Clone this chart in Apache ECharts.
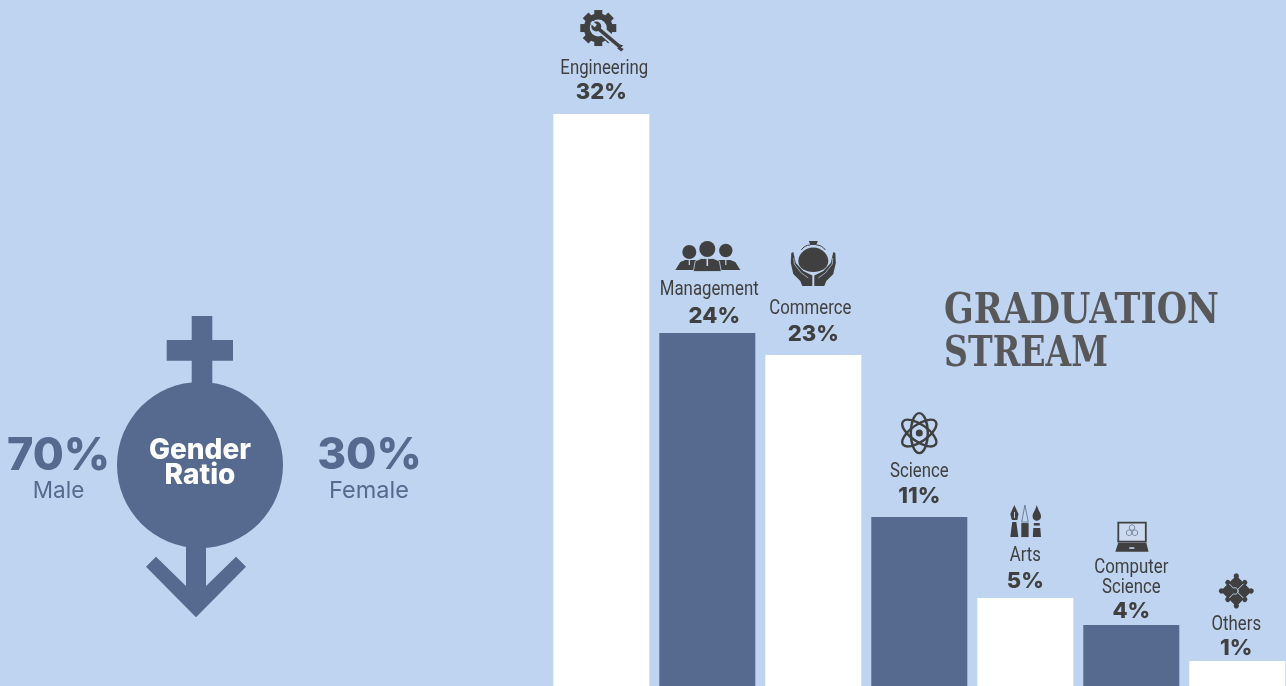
<!DOCTYPE html>
<html>
<head>
<meta charset="utf-8">
<title>Graduation Stream</title>
<script src="https://cdn.jsdelivr.net/npm/echarts@6/dist/echarts.min.js"></script>
<style>
  html, body { margin: 0; padding: 0; background: #bfd4f0; }
  #chart { width: 1286px; height: 686px; }
</style>
</head>
<body>
<div id="chart"></div>
<script>
const categories = ['Engineering', 'Management', 'Commerce', 'Science', 'Arts', 'Computer Science', 'Others']
// percentages as printed above the bars
const streamPercents = [32, 24, 23, 11, 5, 4, 1]
// bar heights as drawn in the picture, the artwork does not follow the printed percentages exactly
const barHeights = [32, 19.75, 18.52, 9.45, 4.92, 3.41, 1.4]
const genderNames = ['Male', 'Female']
const genderPercents = [70, 30]
const titleLines = ['GRADUATION', 'STREAM']

const BG = '#bfd4f0'
const DARK = '#56698f'
const INK = '#404040'
const barColors = ['#ffffff', DARK]

// label and icon places, relative to the top centre of each bar
const nameOffsets = [[3, -45], [2, -43], [-3, -46], [0, -45], [0, -42], [0, -37], [-1, -36]]
const percentOffsets = [[0, -22], [7, -17], [0, -21], [0, -21], [0, -17], [0, -14], [-1, -13]]
const iconOffsets = [[-1, -84], [0, -78], [0, -91], [0, -84], [0, -77], [0, -88], [-1, -70]]

function fill (d, color) {
  return { type: 'path', shape: { pathData: d }, style: { fill: color || INK } }
}
function circle (cx, cy, r, color) {
  return { type: 'circle', shape: { cx, cy, r }, style: { fill: color || INK } }
}
function line (x1, y1, x2, y2, w, color) {
  return { type: 'line', shape: { x1, y1, x2, y2 }, style: { stroke: color || INK, lineWidth: w } }
}

function gearIcon () {
  const teeth = [0, 45, 90, 135, 180, 225, 270, 315].map((deg) => ({
    type: 'rect',
    x: -2,
    y: -2,
    rotation: deg * Math.PI / 180,
    shape: { x: -4, y: -18, width: 8, height: 6 },
    style: { fill: INK }
  }))
  return teeth.concat([
    { type: 'circle', shape: { cx: -2, cy: -2, r: 11.5 }, style: { fill: 'none', stroke: INK, lineWidth: 6 } },
    line(3, 2, 21, 18, 8, BG),
    line(-2, -1.5, 20, 17, 3.6),
    circle(-4, -3.5, 5),
    line(-9, -8, -4.5, -4, 3.4, BG),
    fill('M17 18.5L20 14.5L23 15.5L20.5 17.5L23.5 19L21 21.5Z')
  ])
}

function peopleIcon () {
  return [
    circle(-18, -3, 7),
    circle(0, -6, 8),
    circle(18.5, -4.5, 6.7),
    fill('M-32 15L-27 7L-22 5L-10 5L-10 15Z'),
    fill('M33 15L28 7L23 5L10 5L10 15Z'),
    { type: 'path', shape: { pathData: 'M-14 16.5L-12 6L-6 3.5L6 3.5L12 6L14 16.5Z' }, style: { fill: INK, stroke: BG, lineWidth: 0.8 } },
    line(0, 4, 0, 11, 1.6, BG),
    line(-18, 5, -18, 10, 1.2, BG),
    line(18.5, 5, 18.5, 10, 1.2, BG)
  ]
}

function handsIcon () {
  return [
    fill('M0 -16.5C9 -16.5 15 -9 15 -3C15 4 8 8 0 8C-8 8 -15 4 -15 -3C-15 -9 -9 -16.5 0 -16.5Z'),
    fill('M-4.5 -23L4.5 -23L3 -19L-3 -19Z'),
    { type: 'path', shape: { pathData: 'M-3 -19C-7 -19 -10 -17 -12 -14M3 -19C7 -19 10 -17 12 -14' }, style: { fill: 'none', stroke: INK, lineWidth: 1 } },
    fill('M-22 -11L-20 -12L-17.5 -1L-10 7L-1 11.5L-1 22L-11 22L-13 17L-20 10L-22.5 -1Z'),
    fill('M22 -11L20 -12L17.5 -1L10 7L1 11.5L1 22L11 22L13 17L20 10L22.5 -1Z'),
    { type: 'path', shape: { pathData: 'M-19.5 -6L-19 0L-12 9L-5 14M19.5 -6L19 0L12 9L5 14' }, style: { fill: 'none', stroke: BG, lineWidth: 0.7 } }
  ]
}

function atomIcon () {
  const orbit = (deg) => ({
    type: 'ellipse',
    rotation: deg * Math.PI / 180,
    shape: { cx: 0, cy: 0, rx: 20, ry: 8.5 },
    style: { fill: 'none', stroke: INK, lineWidth: 2.4 }
  })
  return [orbit(35), orbit(-35), orbit(90), circle(0, 0, 3.5)]
}

function toolsIcon () {
  return [
    fill('M-11 -16L-6.8 -7L-8 -1L-13.5 -1L-15 -7Z'),
    line(-10.8, -9, -10.8, -3, 0.9, BG),
    fill('M-13 1L-9 1L-8 8L-7 16L-15 16L-14 8Z'),
    { type: 'path', shape: { pathData: 'M-0.4 -16L3 1L-3.6 1Z' }, style: { fill: 'none', stroke: '#5b6a85', lineWidth: 0.8 } },
    fill('M-4 2L3.3 2L3.3 16L-4 16Z'),
    fill('M11.5 -16C13 -10 16 -8 15.7 -4C15 1 8 1 7.3 -4C7 -8 10 -10 11.5 -16Z'),
    fill('M8.5 2L14.5 2L14.5 4.5L8.5 4.5Z'),
    fill('M8 7L15 7L15.7 16L7.5 16Z')
  ]
}

function laptopIcon () {
  const hex = 'M0 -3L2.6 -1.5L2.6 1.5L0 3L-2.6 1.5L-2.6 -1.5Z'
  const cell = (x, y) => ({ type: 'path', x, y, shape: { pathData: hex }, style: { fill: 'none', stroke: '#6b7a94', lineWidth: 0.8 } })
  return [
    { type: 'rect', shape: { x: -13, y: -14.5, width: 27.5, height: 19 }, style: { fill: '#ccd9ee', stroke: INK, lineWidth: 1.8 } },
    cell(0.7, -9.5), cell(-2.2, -4.3), cell(3.6, -4.3),
    fill('M-13 5.7L15 5.7L17.3 14.7L-16 14.7Z'),
    fill('M-2 10.2L3 10.2L3 11.8L-2 11.8Z', BG)
  ]
}

function puzzleIcon () {
  const cornerKnobs = [[-10.5, -10.5], [10.5, -10.5], [-10.5, 10.5], [10.5, 10.5]]
  const sideKnobs = [[0, -12], [0, 12], [-12, 0], [12, 0]]
  return [{
    type: 'group',
    rotation: Math.PI / 4,
    children: [{ type: 'rect', shape: { x: -11, y: -11, width: 22, height: 22 }, style: { fill: INK } }]
      .concat(cornerKnobs.map((p) => circle(p[0], p[1], 2.6)))
      .concat(sideKnobs.map((p) => circle(p[0], p[1], 2.6)))
      .concat([
        { type: 'path', shape: { pathData: 'M0 -10L0 -4C3 -3 3 1 0 2L0 10M-10 0L-4 0C-3 3 1 3 2 0L10 0' }, style: { fill: 'none', stroke: BG, lineWidth: 0.9 } }
      ])
  }]
}

const iconMakers = [gearIcon, peopleIcon, handsIcon, atomIcon, toolsIcon, laptopIcon, puzzleIcon]

// condensed look of the stream names, squeezed since no narrow face is installed
function nameRows (i) {
  const rows = categories[i].split(' ')
  const off = nameOffsets[i]
  return rows.map((row, k) => ({
    type: 'text',
    x: off[0],
    y: off[1] - (rows.length - 1 - k) * 20,
    scaleX: 0.8,
    style: { text: row, fill: INK, font: '21px Roboto, sans-serif', align: 'center', verticalAlign: 'middle' }
  }))
}

function percentText (i) {
  const off = percentOffsets[i]
  return {
    type: 'text',
    x: off[0],
    y: off[1],
    style: { text: streamPercents[i] + '%', fill: INK, font: '800 22px Inter, sans-serif', align: 'center', verticalAlign: 'middle' }
  }
}

function sideText (x, y, text, font, color) {
  return {
    type: 'text',
    x,
    y,
    style: { text, fill: color, font, align: 'center', verticalAlign: 'middle' }
  }
}

function titleText (y, text, scaleX) {
  return {
    type: 'text',
    x: 944,
    y,
    scaleX,
    style: { text, fill: '#58585a', font: 'bold 42px "DejaVu Serif", serif', align: 'left', verticalAlign: 'middle' }
  }
}

const chart = echarts.init(document.getElementById('chart'))

chart.setOption({
  animation: false,
  backgroundColor: BG,
  grid: { left: 548.3, top: 0, width: 742, height: 686, outerBoundsMode: 'none' },
  xAxis: { type: 'category', data: categories, show: false },
  yAxis: { type: 'value', min: 0, max: 38.38, show: false },
  series: [{
    type: 'bar',
    barWidth: 96,
    silent: true,
    data: barHeights.map((v, i) => ({ value: v, itemStyle: { color: barColors[i % 2] } }))
  }, {
    type: 'custom',
    silent: true,
    data: barHeights.map((v, i) => [i, v]),
    renderItem: (params, api) => {
      const i = params.dataIndex
      const top = api.coord([api.value(0), api.value(1)])
      const off = iconOffsets[i]
      return {
        type: 'group',
        x: top[0],
        y: top[1],
        children: [
          { type: 'group', x: off[0], y: off[1], children: iconMakers[i]() },
          ...nameRows(i),
          percentText(i)
        ]
      }
    }
  }],
  graphic: [
    // gender figure
    { type: 'rect', shape: { x: 191.7, y: 316, width: 20.6, height: 72 }, style: { fill: DARK } },
    { type: 'rect', shape: { x: 166.7, y: 340, width: 66.3, height: 20.7 }, style: { fill: DARK } },
    { type: 'circle', shape: { cx: 200, cy: 465, r: 83 }, style: { fill: DARK } },
    {
      type: 'polygon',
      shape: { points: [[186, 540], [206, 540], [206, 586], [236, 556.7], [246, 566.7], [196, 617.3], [146, 566.7], [156, 556.7], [186, 586]] },
      style: { fill: DARK }
    },
    sideText(200, 451, 'Gender', '800 28px Inter, sans-serif', '#fff'),
    sideText(200, 476, 'Ratio', '800 28px Inter, sans-serif', '#fff'),
    sideText(58.5, 456, genderPercents[0] + '%', '800 45px Inter, sans-serif', DARK),
    sideText(58.5, 491, genderNames[0], '22.5px Inter, sans-serif', DARK),
    sideText(369.5, 456, genderPercents[1] + '%', '800 44px Inter, sans-serif', DARK),
    sideText(369, 491, genderNames[1], '23.5px Inter, sans-serif', DARK),
    // title
    titleText(312, titleLines[0], 0.83),
    titleText(355, titleLines[1], 0.79)
  ]
})
</script>
</body>
</html>
